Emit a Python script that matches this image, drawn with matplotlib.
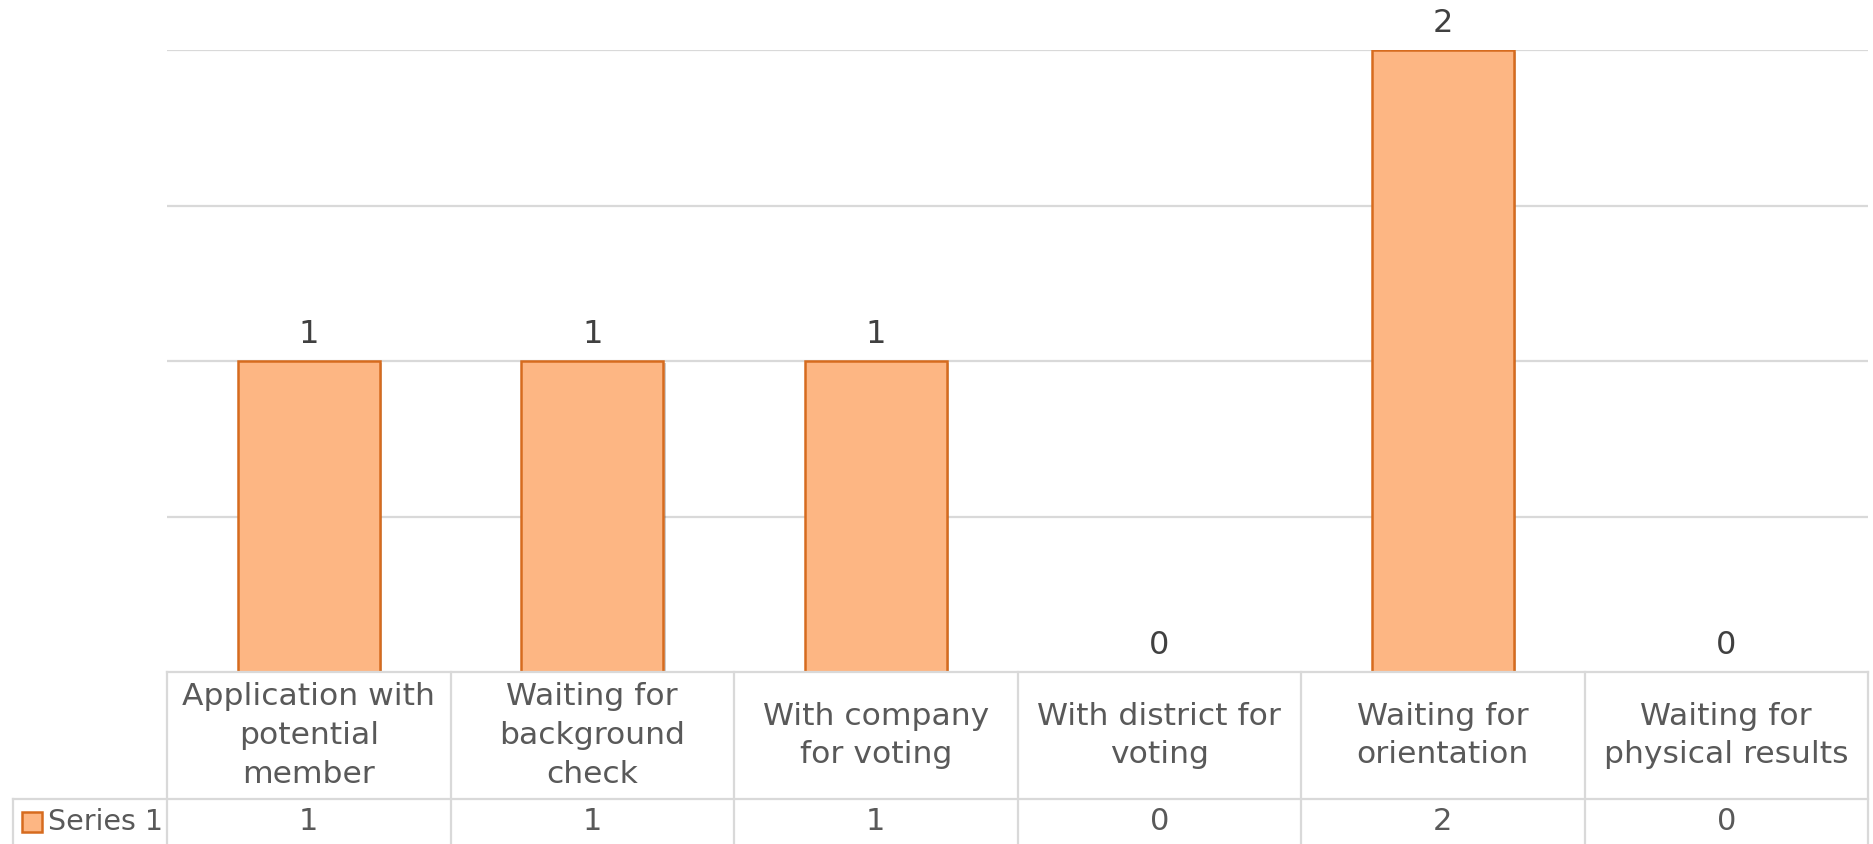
import matplotlib.pyplot as plt
import matplotlib.patheffects as pe
from matplotlib.lines import Line2D
from matplotlib.patches import Rectangle
from matplotlib.transforms import blended_transform_factory

# data
categories = ['Application with\npotential\nmember', 'Waiting for\nbackground\ncheck',
              'With company\nfor voting', 'With district for\nvoting',
              'Waiting for\norientation', 'Waiting for\nphysical results']
values = [1, 1, 1, 0, 2, 0]
series_name = 'Series 1'

W, H = 1873, 844
bar_color = '#FDB683'
edge_color = '#D66B1E'
grid_color = '#D9D9D9'
text_color = '#595959'

plt.rcParams['font.family'] = ['DejaVu Sans']

fig = plt.figure(figsize=(W / 100, H / 100), dpi=100)
left, right, top, base = 167, 1868, 50, 672
ax = fig.add_axes([left / W, 1 - base / H, (right - left) / W, (base - top) / H])

x = list(range(len(categories)))
bars = ax.bar(x, values, width=0.5, color=bar_color, edgecolor=edge_color, linewidth=1.8, zorder=3)
for b in bars:
    b.set_path_effects([pe.SimplePatchShadow(offset=(2, -1.5), shadow_rgbFace='#000000', alpha=0.2),
                        pe.Normal()])

for xi, v in zip(x, values):
    ax.annotate(str(v), (xi, v), xytext=(0, 13), textcoords='offset points',
                ha='center', va='baseline', fontsize=23, color='#404040')

ax.set_xlim(-0.5, len(categories) - 0.5)
ax.set_ylim(0, 2)
ax.set_yticks([0.5, 1, 1.5, 2])
ax.yaxis.grid(True, color=grid_color, linewidth=1.6, zorder=0)
ax.set_xticks([])
ax.tick_params(left=False, labelleft=False)
for s in ax.spines.values():
    s.set_visible(False)

# data table under the chart
def fy(py):
    return 1 - py / H

tr = blended_transform_factory(ax.transData, fig.transFigure)
n = len(categories)
row_line = 799
# horizontal lines
fig.add_artist(Line2D([-0.5, n - 0.5], [fy(base), fy(base)], transform=tr, color=grid_color, lw=1.6))
fig.add_artist(Line2D([13 / W, right / W], [fy(row_line), fy(row_line)], transform=fig.transFigure,
                      color=grid_color, lw=1.6))
# vertical lines
for i in range(n + 1):
    fig.add_artist(Line2D([i - 0.5, i - 0.5], [fy(base), 0], transform=tr, color=grid_color, lw=1.6))
fig.add_artist(Line2D([13 / W, 13 / W], [fy(row_line), 0], transform=fig.transFigure, color=grid_color, lw=1.6))

for xi, cat, v in zip(x, categories, values):
    fig.text(xi, fy((base + row_line) / 2), cat, transform=tr, ha='center', va='center',
             fontsize=22.6, color=text_color, linespacing=1.42)
    fig.text(xi, fy((row_line + H) / 2), str(v), transform=tr, ha='center', va='center',
             fontsize=22, color=text_color)

fig.add_artist(Rectangle((22 / W, fy(832)), 20 / W, 20 / H, transform=fig.transFigure,
                         facecolor=bar_color, edgecolor=edge_color, lw=1.8))
fig.text(48 / W, fy((row_line + H) / 2), series_name, ha='left', va='center', fontsize=20.5, color=text_color)

fig.savefig('out.png', dpi=100)
